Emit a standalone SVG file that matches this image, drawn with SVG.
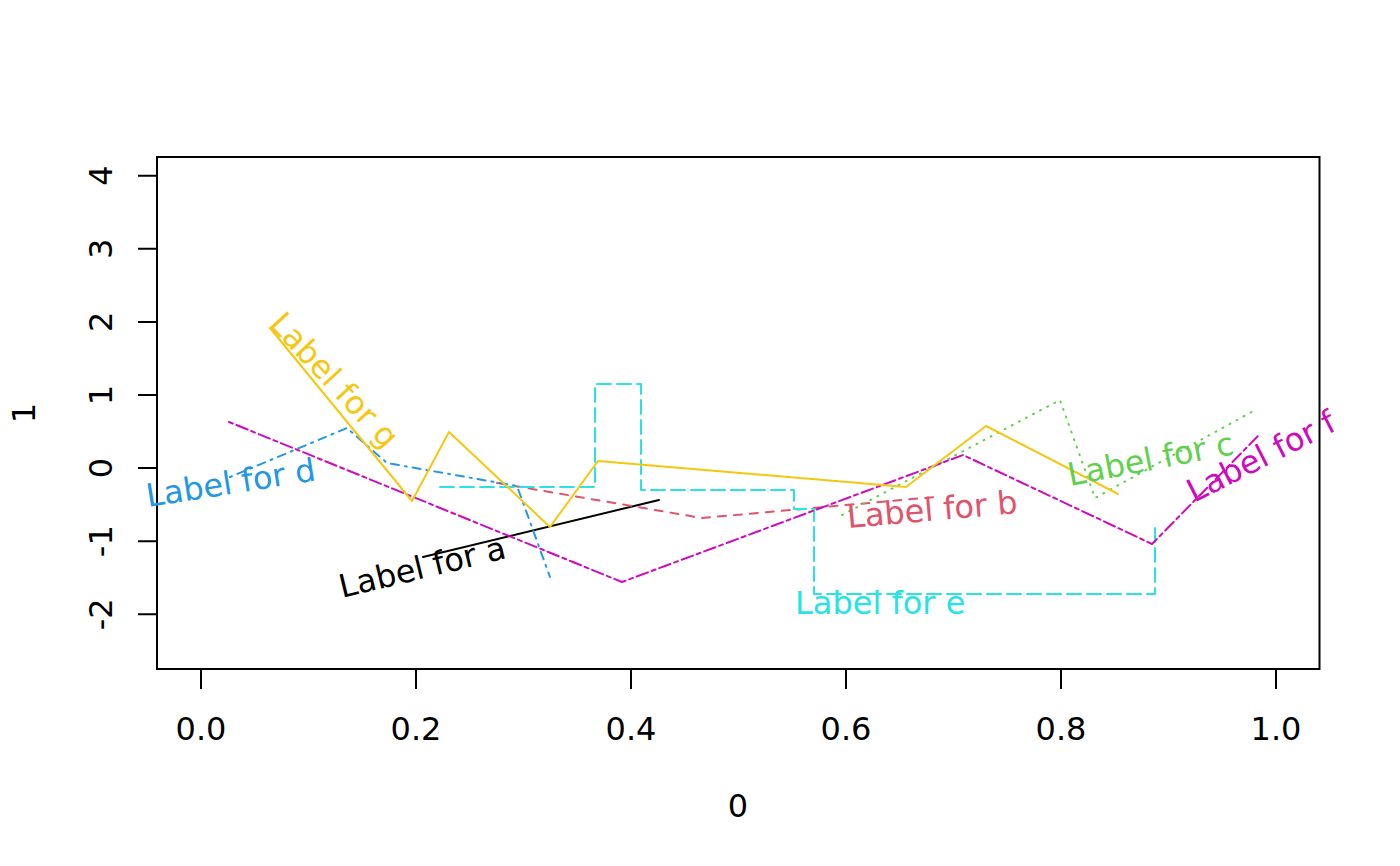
<svg xmlns="http://www.w3.org/2000/svg" width="1400" height="866" viewBox="0 0 1400 866">
<style>
text{font-family:"DejaVu Sans","Liberation Sans",sans-serif;font-size:32px}
.ax{stroke:#000;stroke-width:2;fill:none}
.s{fill:none;stroke-width:2;stroke-linecap:round;stroke-linejoin:round}
.tl{text-anchor:middle;fill:#000}
</style>
<rect width="1400" height="866" fill="#fff"/>
<g id="axes">
<rect class="ax" x="157" y="157" width="1162.5" height="512"/>
<path class="ax" d="M201 669V689M416 669V689M631 669V689M846 669V689M1061 669V689M1276 669V689M157 175.7H138M157 248.8H138M157 321.9H138M157 395H138M157 468.1H138M157 541.2H138M157 614.3H138"/>
<text class="tl" x="201" y="740">0.0</text>
<text class="tl" x="416" y="740">0.2</text>
<text class="tl" x="631" y="740">0.4</text>
<text class="tl" x="846" y="740">0.6</text>
<text class="tl" x="1061" y="740">0.8</text>
<text class="tl" x="1276" y="740">1.0</text>
<text class="tl" transform="translate(112 175.7) rotate(-90)">4</text>
<text class="tl" transform="translate(112 248.8) rotate(-90)">3</text>
<text class="tl" transform="translate(112 321.9) rotate(-90)">2</text>
<text class="tl" transform="translate(112 395) rotate(-90)">1</text>
<text class="tl" transform="translate(112 468.1) rotate(-90)">0</text>
<text class="tl" transform="translate(112 541.2) rotate(-90)">-1</text>
<text class="tl" transform="translate(112 614.3) rotate(-90)">-2</text>
<text class="tl" x="738" y="817">0</text>
<text class="tl" transform="translate(35 413) rotate(-90)">1</text>
</g>
<g id="connectors">
<polyline id="line-a" class="s" stroke="#000000" points="423,557 659,500"/>
<polyline id="line-b" class="s" stroke="#DF536B" stroke-dasharray="8 8" points="497,483 702,518 935,497"/>
<polyline id="line-c" class="s" stroke="#61D04F" stroke-dasharray="1 7" points="842,515 1060,400 1095,498 1257,409"/>
<polyline id="line-d" class="s" stroke="#2297E6" stroke-dasharray="2 6 8 6" points="230,477 347,428 387,463 517,486 550,577"/>
<polyline id="line-e" class="s" stroke="#28E2E5" stroke-dasharray="14 6" points="440,487 595,487 595,384 641,384 641,490 794,490 794,509 814,509 814,594 1155,594 1155,527"/>
<polyline id="line-f" class="s" stroke="#CD0BBC" stroke-dasharray="4 4 12 4" points="229,422 622,582 963,455 1152,544 1258,436"/>
<polyline id="line-g" class="s" stroke="#F5C710" points="270,328 412,501 449,432 550,527 598,461 906,487 986,426 1118,494"/>
</g>
<g id="label-a"><text transform="translate(342 598) rotate(-13.6)" fill="#000000">Label for a</text></g>
<g id="label-b"><text transform="translate(848 528) rotate(-5)" fill="#DF536B">Label for b</text></g>
<g id="label-c"><text transform="translate(1070 486) rotate(-11)" fill="#61D04F">Label for c</text></g>
<g id="label-d"><text transform="translate(148 507) rotate(-9)" fill="#2297E6">Label for d</text></g>
<g id="label-e"><text transform="translate(795 614)" fill="#28E2E5">Label for e</text></g>
<g id="label-f"><text transform="translate(1194 503) rotate(-27)" fill="#CD0BBC">Label for f</text></g>
<g id="label-g"><text transform="translate(268 325) rotate(47)" fill="#F5C710">Label for g</text></g>
</svg>
